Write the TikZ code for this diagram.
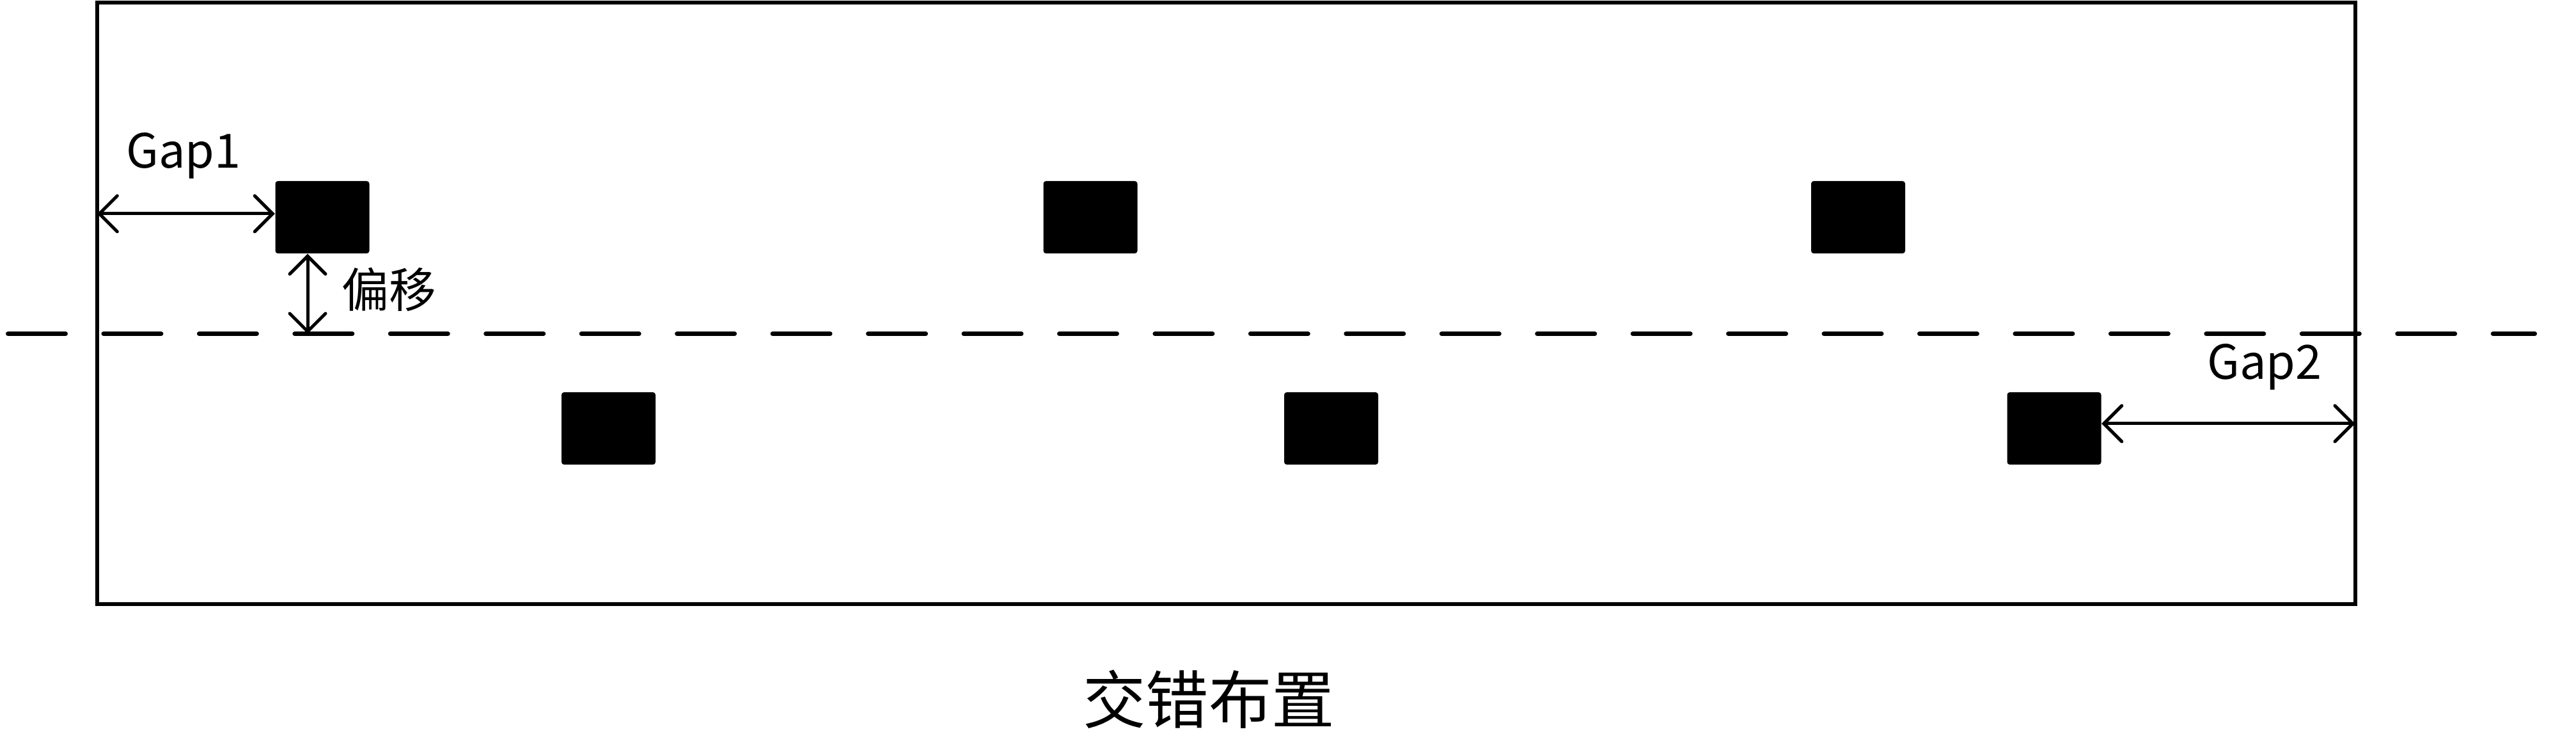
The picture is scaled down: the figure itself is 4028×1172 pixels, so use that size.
\documentclass[tikz,border=0pt]{standalone}
\usepackage{fontspec}
\setmainfont{Noto Sans CJK SC}
\usetikzlibrary{arrows.meta}
\tikzset{
  blk/.style={rectangle, fill=black, draw=none, inner sep=0pt, minimum width=14.7mm, minimum height=11.3mm, rounded corners=0.4mm},
  frame/.style={line width=0.6mm, line join=miter},
  axisline/.style={line width=0.7mm, line cap=round, dash pattern=on 9mm off 5.945mm},
  dimline/.style={line width=0.5mm, {Straight Barb[length=2.8mm,width=5.6mm,line cap=round]}-{Straight Barb[length=2.8mm,width=5.6mm,line cap=round]}},
  lbl/.style={inner sep=0pt, font=\fontsize{21}{25}\selectfont},
  titlelbl/.style={inner sep=0pt, font=\fontsize{28}{34}\selectfont}
}
\begin{document}
\begin{tikzpicture}[x=0.1mm,y=-0.1mm]
\useasboundingbox (0,0) rectangle (4028,1172);
% frame
\draw[frame] (151.8,4.5) rectangle (3682.5,944);
\coordinate (FL) at (151.8,334);
\coordinate (FR) at (3682.5,662);
% dashed center line
\coordinate (DL) at (12.5,521.5);
\coordinate (DR) at (3963.5,521.5);
\draw[axisline] (DL) -- (DR);
% blocks
\node[blk] (b1) at (504,339.5) {};
\node[blk] (b2) at (1705,339.5) {};
\node[blk] (b3) at (2905.5,339.5) {};
\node[blk] (b4) at (951.5,669.5) {};
\node[blk] (b5) at (2081.5,669.5) {};
\node[blk] (b6) at (3212,669.5) {};
% dimensions
\draw[dimline] (FL) -- (FL -| b1.west);
\coordinate (OB) at (481,521.5);
\draw[dimline] (OB |- b1.south) -- (OB);
\draw[dimline] (FR -| b6.east) -- (FR);
% labels
\node[lbl, anchor=base] (g1) at (287,263) {Gap1};
\node[lbl, anchor=base] (g2) at (3541,593) {Gap2};
\node[lbl] (off) at (608,453) {偏移};
\node[titlelbl] (title) at (1890,1093) {交错布置};
\end{tikzpicture}
\end{document}
